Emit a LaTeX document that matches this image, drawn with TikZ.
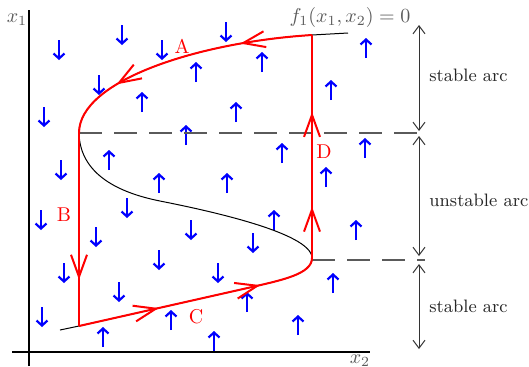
\documentclass[tikz,border=0pt]{standalone}
\usepackage{tikz}
\usetikzlibrary{arrows.meta, decorations.markings}
\definecolor{vermelhoCiclo}{RGB}{255,0,0}
\definecolor{azulCampo}{RGB}{0,0,255}
\definecolor{cinzaTexto}{RGB}{90,90,90}

\begin{document}
\begin{tikzpicture}[x=0.5pt, y=-0.5pt,
    curva/.style={draw=black, line width=0.5pt},
    ciclo/.style={draw=vermelhoCiclo, line width=1pt},
    marca/.style={postaction={decorate, decoration={markings, mark=at position #1 with {\arrow{Straight Barb[length=11pt, width=8pt]}}}}},
    tracejado/.style={draw=cinzaTexto, line width=0.7pt, dash pattern=on 11.5pt off 6pt},
    cota/.style={draw=black!80, line width=0.5pt, {Straight Barb[length=4pt, width=6pt]}-{Straight Barb[length=4pt, width=6pt]}},
    campo/.style={draw=azulCampo, line width=1.1pt, -{Straight Barb[length=2.5pt, width=5.5pt]}},
    eixo/.style={draw=black, line width=0.7pt},
    rotuloCiclo/.style={text=vermelhoCiclo, font=\normalsize},
    rotuloArco/.style={text=black!85, anchor=west, inner sep=1pt, font=\small}
]
    \useasboundingbox (0,0) rectangle (529,366);

    % eixos
    \draw[eixo] (29,366) -- (29,10);
    \draw[eixo] (12,352) -- (370,352);
    \node[text=cinzaTexto] (eixoX1) at (17,20) {$x_1$};
    \node[text=cinzaTexto, anchor=north, inner sep=1pt] (eixoX2) at (360,352) {$x_2$};

    % pontos do ciclo
    \coordinate (fimCurva) at (348,33);
    \coordinate (topo) at (312,35);
    \coordinate (dobraA) at (79,133);
    \coordinate (baseB) at (79,326);
    \coordinate (meioC) at (252,287);
    \coordinate (dobraD) at (312,258);
    \coordinate (inicioCurva) at (60,330);

    % campo de setas
    \foreach \x/\y in {59/50, 122/35, 162/50, 226/32, 99/85, 44/117, 61/170, 41/220, 127/208, 96/237,
                       191/230, 253/243, 159/260, 64/273, 218/273, 119/292, 42/317}
        \draw[campo] (\x,{\y-10}) -- (\x,{\y+10});
    \foreach \x/\y in {196/72, 262/62, 366/48, 142/102, 236/112, 331/90, 186/135, 109/160, 159/183, 227/183,
                       282/153, 365/148, 326/177, 274/220, 356/230, 333/283, 298/325, 247/302, 171/320, 103/337, 214/341}
        \draw[campo] (\x,{\y+10}) -- (\x,{\y-10});

    % curva f1 = 0
    \draw[curva] (fimCurva) -- (topo) .. controls (200,42) and (79,80) .. (dobraA)
        .. controls (80,175) and (120,193) .. (160,201)
        .. controls (200,209) and (312,232) .. (dobraD)
        .. controls (312,274) and (282,280) .. (meioC) -- (baseB) -- (inicioCurva);
    \node[text=cinzaTexto] (eqCurva) at (350,17) {$f_1(x_1,x_2)=0$};

    % linhas tracejadas e cotas
    \coordinate (fimTracoA) at (425,133);
    \coordinate (fimTracoD) at (425,260);
    \draw[tracejado] (dobraA) -- (fimTracoA);
    \draw[tracejado] (312,260) -- (fimTracoD);
    \draw[cota] (419,25) -- (419,131);
    \draw[cota] (419,136) -- (419,256);
    \draw[cota] (419,264) -- (419,349);
    \node[rotuloArco] (arco1) at (427,75) {stable arc};
    \node[rotuloArco] (arco2) at (427,200) {unstable arc};
    \node[rotuloArco] (arco3) at (427,306) {stable arc};

    % ciclo de relaxacao
    \draw[ciclo, marca=0.27, marca=0.76] (topo) .. controls (200,42) and (79,80) .. (dobraA);
    \draw[ciclo, marca=0.76] (dobraA) -- (baseB);
    \draw[ciclo, marca=0.33, marca=0.75] (baseB) -- (meioC) .. controls (282,280) and (312,274) .. (dobraD);
    \draw[ciclo, marca=0.23, marca=0.655] (dobraD) -- (topo);

    \node[rotuloCiclo] (rotA) at (182,46) {A};
    \node[rotuloCiclo] (rotB) at (64,215) {B};
    \node[rotuloCiclo] (rotC) at (196,317) {C};
    \node[rotuloCiclo] (rotD) at (324,152) {D};
\end{tikzpicture}
\end{document}
